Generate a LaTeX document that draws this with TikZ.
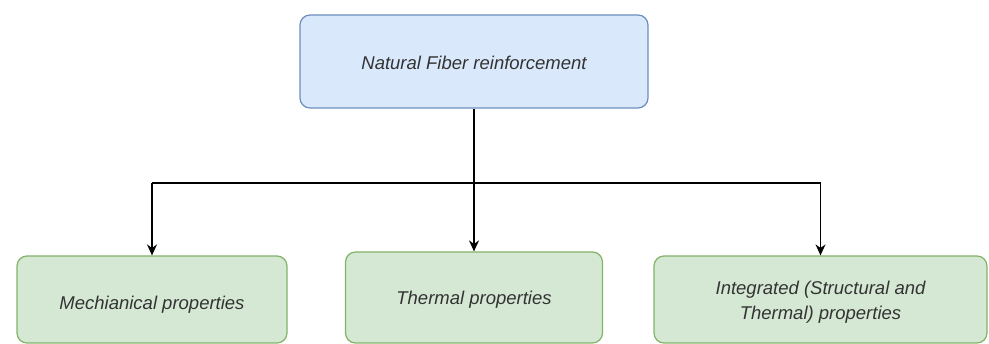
\documentclass[tikz,border=0pt]{standalone}
\usepackage{fontspec}
\setmainfont{Liberation Sans}
\usetikzlibrary{arrows.meta}
\definecolor{bluefill}{HTML}{DAE8FC}
\definecolor{blueline}{HTML}{6C8EBF}
\definecolor{greenfill}{HTML}{D5E8D4}
\definecolor{greenline}{HTML}{82B366}
\definecolor{txt}{HTML}{333333}
\tikzset{
  topbox/.style={draw=blueline, fill=bluefill, line width=1.2pt, rounded corners=10pt, inner sep=0pt},
  leafbox/.style={draw=greenline, fill=greenfill, line width=1.2pt, rounded corners=10pt, inner sep=0pt},
  lbl/.style={text=txt, font=\fontsize{18.5}{25}\selectfont\itshape, align=center, inner sep=0pt},
  arr/.style={line width=1.4pt, -{Stealth[length=11pt,width=10pt]}},
  ln/.style={line width=1.4pt}
}
\begin{document}
\begin{tikzpicture}[x=1pt,y=-1pt]
\useasboundingbox (0,0) rectangle (989,344);
\node[topbox, minimum width=348pt, minimum height=93pt] (top) at (474,61.5) {};
\node[lbl] (toplbl) at (474,63) {Natural Fiber reinforcement};
\node[leafbox, minimum width=270pt, minimum height=87pt] (left) at (152,299.5) {};
\node[lbl] (leftlbl) at (152,305) {Mechianical properties};
\node[leafbox, minimum width=257pt, minimum height=91pt] (mid) at (474,297.5) {};
\node[lbl] (midlbl) at (474,300) {Thermal properties};
\node[leafbox, minimum width=333pt, minimum height=87pt] (right) at (820.5,299.5) {};
\node[lbl] (rightlbl) at (820.5,302) {Integrated (Structural and\\Thermal) properties};
\coordinate (j) at (474,183);
\draw[arr] (top.south) -- (mid.north);
\draw[ln] (left.north |- j) -- (right.north |- j);
\draw[arr] (left.north |- j) -- (left.north);
\draw[arr] (right.north |- j) -- (right.north);
\end{tikzpicture}
\end{document}
